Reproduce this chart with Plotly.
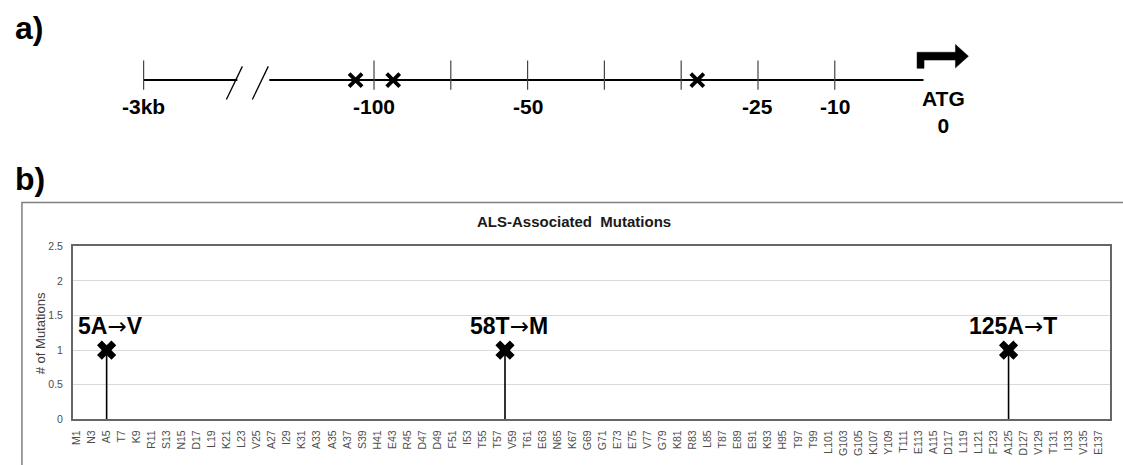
import plotly.graph_objects as go

W, H = 1123, 465
FONT = "Arial, Liberation Sans, sans-serif"

# ---------------- Panel a data (promoter schematic, in tick-slot units) ----------------
promoter_tick_slots = [-3, 0, 1, 2, 3, 4, 5, 6]
promoter_tick_labels = ["-3kb", "-100", "", "-50", "", "", "-25", "-10"]
promoter_mutation_slots = [-0.24, 0.25, 4.21]
atg_slot = 7.42
atg_label = "ATG<br>0"

# ---------------- Panel b data ----------------
residue_labels = [
    "M1", "N3", "A5", "T7", "K9", "R11", "S13", "N15", "D17", "L19", "K21", "L23", "V25",
    "A27", "I29", "K31", "A33", "A35", "A37", "S39", "H41", "E43", "R45", "D47", "D49",
    "F51", "I53", "T55", "T57", "V59", "T61", "E63", "N65", "K67", "G69", "G71", "E73",
    "E75", "V77", "G79", "K81", "R83", "L85", "T87", "E89", "E91", "K93", "H95", "T97",
    "T99", "L101", "G103", "G105", "K107", "Y109", "T111", "E113", "A115", "D117", "L119",
    "L121", "F123", "A125", "D127", "V129", "T131", "I133", "V135", "E137",
]
n_residues = 138
mutation_positions = [5, 58, 125]
mutation_counts = [1, 1, 1]
mutation_from = ["5A", "58T", "125A"]
mutation_to = ["V", "M", "T"]

residue_positions = [int(lbl[1:]) for lbl in residue_labels]


def px(x):
    return x / W


def py(y):
    return 1 - y / H


fig = go.Figure()

# ---- panel b: stems + X markers ----
fig.add_trace(go.Scatter(
    x=mutation_positions, y=mutation_counts, mode="markers",
    marker=dict(symbol="x", size=17, color="black"),
    error_y=dict(type="data", symmetric=False, array=[0] * len(mutation_counts),
                 arrayminus=mutation_counts, thickness=1.6, width=0, color="black"),
    xaxis="x", yaxis="y", showlegend=False, hoverinfo="skip",
))

# ---- panel a: mutation x marks ----
fig.add_trace(go.Scatter(
    x=promoter_mutation_slots, y=[0] * len(promoter_mutation_slots), mode="markers",
    marker=dict(symbol="x-thin", size=13, line=dict(width=3.8, color="black")),
    xaxis="x2", yaxis="y2", showlegend=False, hoverinfo="skip",
))

# slot -> pixel mapping for panel a: pixel = 372 + 77*slot ; y value = 76 - pixel_y
slot0_px, slot_w = 372.0, 77.0
line_y_px = 76.0

shapes = []
annotations = []

# main line (with break)
break_left = (235 - slot0_px) / slot_w
break_right = (267 - slot0_px) / slot_w
line_end = (923 - slot0_px) / slot_w
shapes.append(dict(type="line", xref="x2", yref="y2", x0=-3, x1=break_left, y0=0, y1=0,
                   line=dict(color="black", width=2)))
shapes.append(dict(type="line", xref="x2", yref="y2", x0=break_right, x1=line_end, y0=0, y1=0,
                   line=dict(color="black", width=2)))
# break slashes
for (xa, xb) in [(224, 240), (250, 266)]:
    shapes.append(dict(type="line", xref="x2", yref="y2",
                       x0=(xa - slot0_px) / slot_w, y0=-20, x1=(xb - slot0_px) / slot_w, y1=14,
                       line=dict(color="black", width=1.3)))
# ticks and labels
for s, lab in zip(promoter_tick_slots, promoter_tick_labels):
    shapes.append(dict(type="line", xref="x2", yref="y2", x0=s, x1=s, y0=-10, y1=20,
                       line=dict(color="#444444", width=1.2)))
    if lab:
        annotations.append(dict(x=s, y=-27, xref="x2", yref="y2", text=f"<b>{lab}</b>",
                                showarrow=False, font=dict(family=FONT, size=21, color="black"),
                                xanchor="center", yanchor="middle"))
# ATG label
annotations.append(dict(x=atg_slot, y=-33, xref="x2", yref="y2", text=f"<b>{atg_label}</b>",
                        showarrow=False, font=dict(family=FONT, size=21, color="black"),
                        xanchor="center", yanchor="middle", align="center"))


# bent arrow
def ap(xp, yp):
    return f"{(xp - slot0_px) / slot_w:.4f},{line_y_px - yp:.2f}"


arrow_path = ("M " + ap(916.5, 64) + " L " + ap(916.5, 47.5) + " L " + ap(955, 47.5) +
              " L " + ap(955, 39.5) + " L " + ap(968, 51.5) + " L " + ap(955, 63.5) +
              " L " + ap(955, 55.5) + " L " + ap(923.5, 55.5) + " L " + ap(923.5, 64) + " Z")
shapes.append(dict(type="path", xref="x2", yref="y2", path=arrow_path,
                   fillcolor="black", line=dict(color="black", width=0.5)))

# outer border of panel b chart
shapes.append(dict(type="rect", xref="paper", yref="paper", x0=px(19), x1=px(1135),
                   y0=py(480), y1=py(201.7), line=dict(color="#7f7f7f", width=1.5),
                   fillcolor="rgba(0,0,0,0)", layer="below"))

# panel labels
annotations.append(dict(x=px(10), y=py(23), xref="paper", yref="paper", text="<b>a)</b>",
                        showarrow=False, font=dict(family=FONT, size=32, color="black"),
                        xanchor="left", yanchor="middle"))
annotations.append(dict(x=px(10), y=py(178), xref="paper", yref="paper", text="<b>b)</b>",
                        showarrow=False, font=dict(family=FONT, size=32, color="black"),
                        xanchor="left", yanchor="middle"))
# chart title
annotations.append(dict(x=px(572.5), y=py(221), xref="paper", yref="paper",
                        text="<b>ALS-Associated  Mutations</b>",
                        showarrow=False, font=dict(family=FONT, size=15, color="#1a1a1a"),
                        xanchor="center", yanchor="middle"))
# y-axis title
annotations.append(dict(x=px(37), y=py(336), xref="paper", yref="paper",
                        text="# of Mutations", textangle=-90,
                        showarrow=False, font=dict(family=FONT, size=13, color="#404040"),
                        xanchor="center", yanchor="middle"))
# mutation labels
ARROW = "<span style=\"font-family:'DejaVu Sans';font-weight:normal\">\u2192</span>"
for xpos, cnt, a, b in zip(mutation_positions, mutation_counts, mutation_from, mutation_to):
    annotations.append(dict(x=xpos, y=cnt, xref="x", yref="y", text=f"<b>{a}</b>{ARROW}<b>{b}</b>",
                            showarrow=False, font=dict(family=FONT, size=23, color="black"),
                            xanchor="center", yanchor="middle", yshift=24, xshift=4))

fig.update_layout(
    width=W, height=H,
    margin=dict(l=0, r=0, t=0, b=0),
    paper_bgcolor="white", plot_bgcolor="rgba(0,0,0,0)",
    font=dict(family=FONT),
    shapes=shapes, annotations=annotations,
    xaxis=dict(domain=[px(70), px(1110)], range=[0.5, n_residues + 0.5],
               tickmode="array", tickvals=residue_positions, ticktext=residue_labels,
               tickangle=-90, tickfont=dict(family=FONT, size=10.5, color="#4d4d4d"),
               showgrid=False, zeroline=False, ticks="outside", ticklen=5,
               tickcolor="rgba(0,0,0,0)",
               showline=True, linecolor="#666666", linewidth=1.6, mirror=True,
               anchor="y"),
    yaxis=dict(domain=[py(424.3), py(246.7)], range=[0, 2.5], dtick=0.5,
               tickfont=dict(family=FONT, size=10.5, color="#4d4d4d"),
               gridcolor="#d9d9d9", gridwidth=1.2, zeroline=False,
               ticks="outside", ticklen=6, tickcolor="rgba(0,0,0,0)",
               showline=True, linecolor="#666666", linewidth=1.6, mirror=True,
               anchor="x"),
    xaxis2=dict(domain=[0, 1], range=[-slot0_px / slot_w, (W - slot0_px) / slot_w],
                visible=False, anchor="y2", fixedrange=True),
    yaxis2=dict(domain=[0, 1], range=[line_y_px - H, line_y_px],
                visible=False, anchor="x2", fixedrange=True),
)

fig.write_html("out.html")
